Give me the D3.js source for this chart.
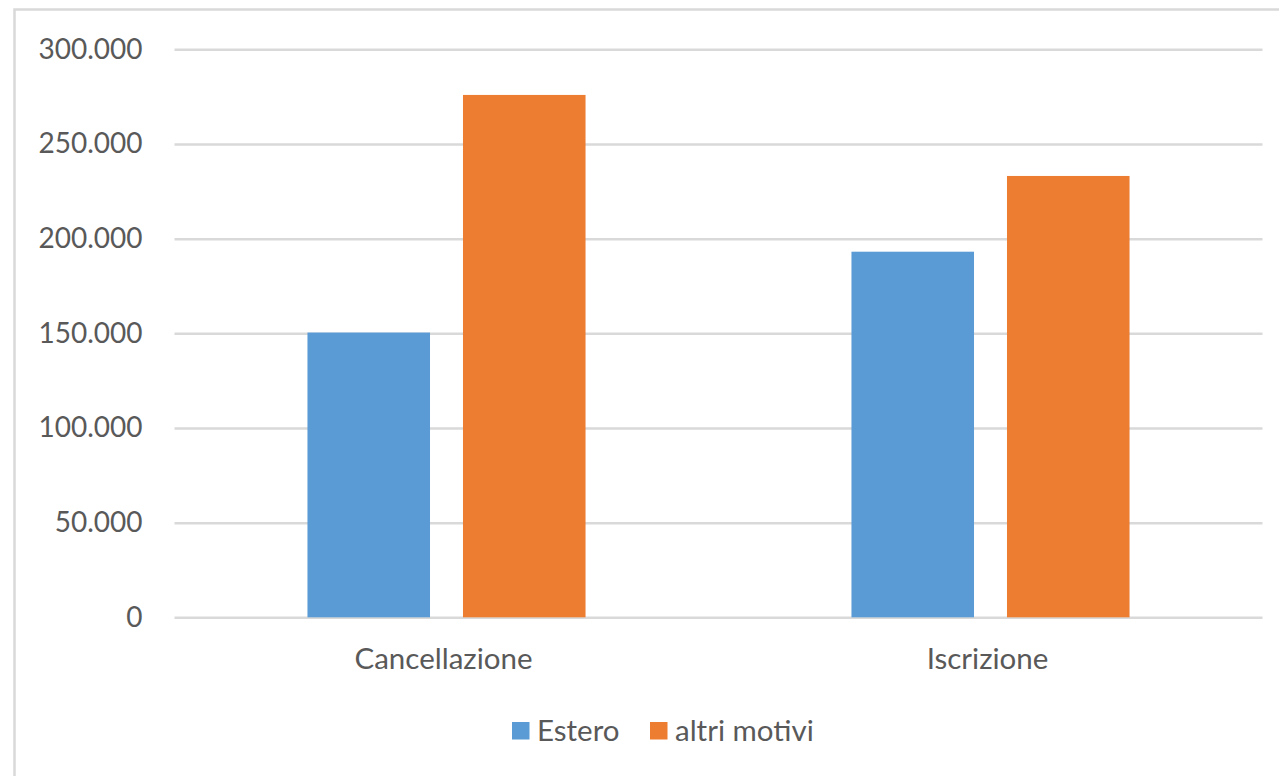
<!DOCTYPE html>
<html>

<head>
    <meta charset="utf-8">
    <title>Cancellazione / Iscrizione</title>
</head>
<style>
body {
    margin: 0;
    background-color: white;
}

text {
    font-family: Lato, "Open Sans", sans-serif;
    fill: #595959;
}

#graphic {
    width: 1279px;
    height: 776px;
    overflow: hidden;
}
</style>

<body>
    <div id="graphic"></div>
    <script src="https://cdnjs.cloudflare.com/ajax/libs/d3/7.8.5/d3.min.js"></script>
    <script>

    var categories = ["Cancellazione", "Iscrizione"];
    var seriesNames = ["Estero", "altri motivi"];
    var estero = [150400, 193100];
    var altriMotivi = [275900, 233100];
    var yTicks = [0, 50000, 100000, 150000, 200000, 250000, 300000];
    var colors = ["#5b9bd5", "#ed7d31"];

    var w = 1279;
    var h = 776;
    var margin = {top: 49.3, left: 174.5, right: 16.5, bottom: 158.7};
    var innerW = w - margin.left - margin.right;
    var innerH = h - margin.top - margin.bottom;

    var itLocale = d3.formatLocale({decimal: ",", thousands: ".", grouping: [3], currency: ["€", ""]});
    var fmt = itLocale.format(",d");

    var svg = d3.select("#graphic")
        .append("svg")
        .attr("width", w)
        .attr("height", h);

    // chart frame (cut off at right and bottom like the screenshot)
    svg.append("rect")
        .attr("x", 14.5)
        .attr("y", 9.5)
        .attr("width", w + 20)
        .attr("height", h + 20)
        .attr("fill", "white")
        .attr("stroke", "#d9d9d9")
        .attr("stroke-width", 2.5);

    var g = svg.append("g")
        .attr("transform", "translate(" + margin.left + "," + margin.top + ")");

    var x = d3.scaleBand()
        .domain(categories)
        .range([0, innerW])
        .padding(0);

    var xs = d3.scaleBand()
        .domain(seriesNames)
        .range([0, x.bandwidth()])
        .paddingInner(0.212)
        .paddingOuter(0.855);

    var y = d3.scaleLinear()
        .domain([0, 300000])
        .range([innerH, 0]);

    var yAxis = g.append("g")
        .call(d3.axisLeft(y)
            .tickValues(yTicks)
            .tickFormat(fmt)
            .tickSize(-innerW)
            .tickPadding(32));

    yAxis.select(".domain").remove();
    yAxis.selectAll(".tick line")
        .attr("stroke", "#d9d9d9")
        .attr("stroke-width", 2.5);
    yAxis.selectAll(".tick text")
        .style("font-size", "28px")
        .style("font-family", "Lato, 'Open Sans', sans-serif")
        .attr("fill", "#595959");

    var xAxis = g.append("g")
        .attr("transform", "translate(0," + innerH + ")")
        .call(d3.axisBottom(x).tickSize(0).tickPadding(31));

    xAxis.select(".domain").remove();
    xAxis.selectAll(".tick text")
        .attr("x", -3)
        .style("font-size", "29.5px")
        .style("font-family", "Lato, 'Open Sans', sans-serif")
        .attr("fill", "#595959");

    var rows = categories.map(function(c, i) {
        return {cat: c, values: [estero[i], altriMotivi[i]]};
    });

    var groups = g.selectAll(".cat")
        .data(rows)
        .enter().append("g")
        .attr("class", "cat")
        .attr("transform", function(d) {
            return "translate(" + x(d.cat) + ",0)";
        });

    groups.selectAll("rect")
        .data(function(d) {
            return d.values.map(function(v, j) {
                return {name: seriesNames[j], value: v, color: colors[j]};
            });
        })
        .enter().append("rect")
        .attr("x", function(d) { return xs(d.name); })
        .attr("y", function(d) { return y(d.value); })
        .attr("width", xs.bandwidth())
        .attr("height", function(d) { return innerH - y(d.value); })
        .attr("fill", function(d) { return d.color; });

    // legend
    var legend = svg.append("g")
        .attr("transform", "translate(512,731)");

    var legendX = [0, 138];

    var items = legend.selectAll(".item")
        .data(seriesNames)
        .enter().append("g")
        .attr("class", "item")
        .attr("transform", function(d, i) {
            return "translate(" + legendX[i] + ",0)";
        });

    items.append("rect")
        .attr("x", 0)
        .attr("y", -9)
        .attr("width", 17.5)
        .attr("height", 17.5)
        .attr("fill", function(d, i) { return colors[i]; });

    items.append("text")
        .attr("x", 25)
        .attr("y", 0)
        .attr("dy", "0.35em")
        .style("font-size", "29.5px")
        .text(function(d) { return d; });

    </script>
</body>
